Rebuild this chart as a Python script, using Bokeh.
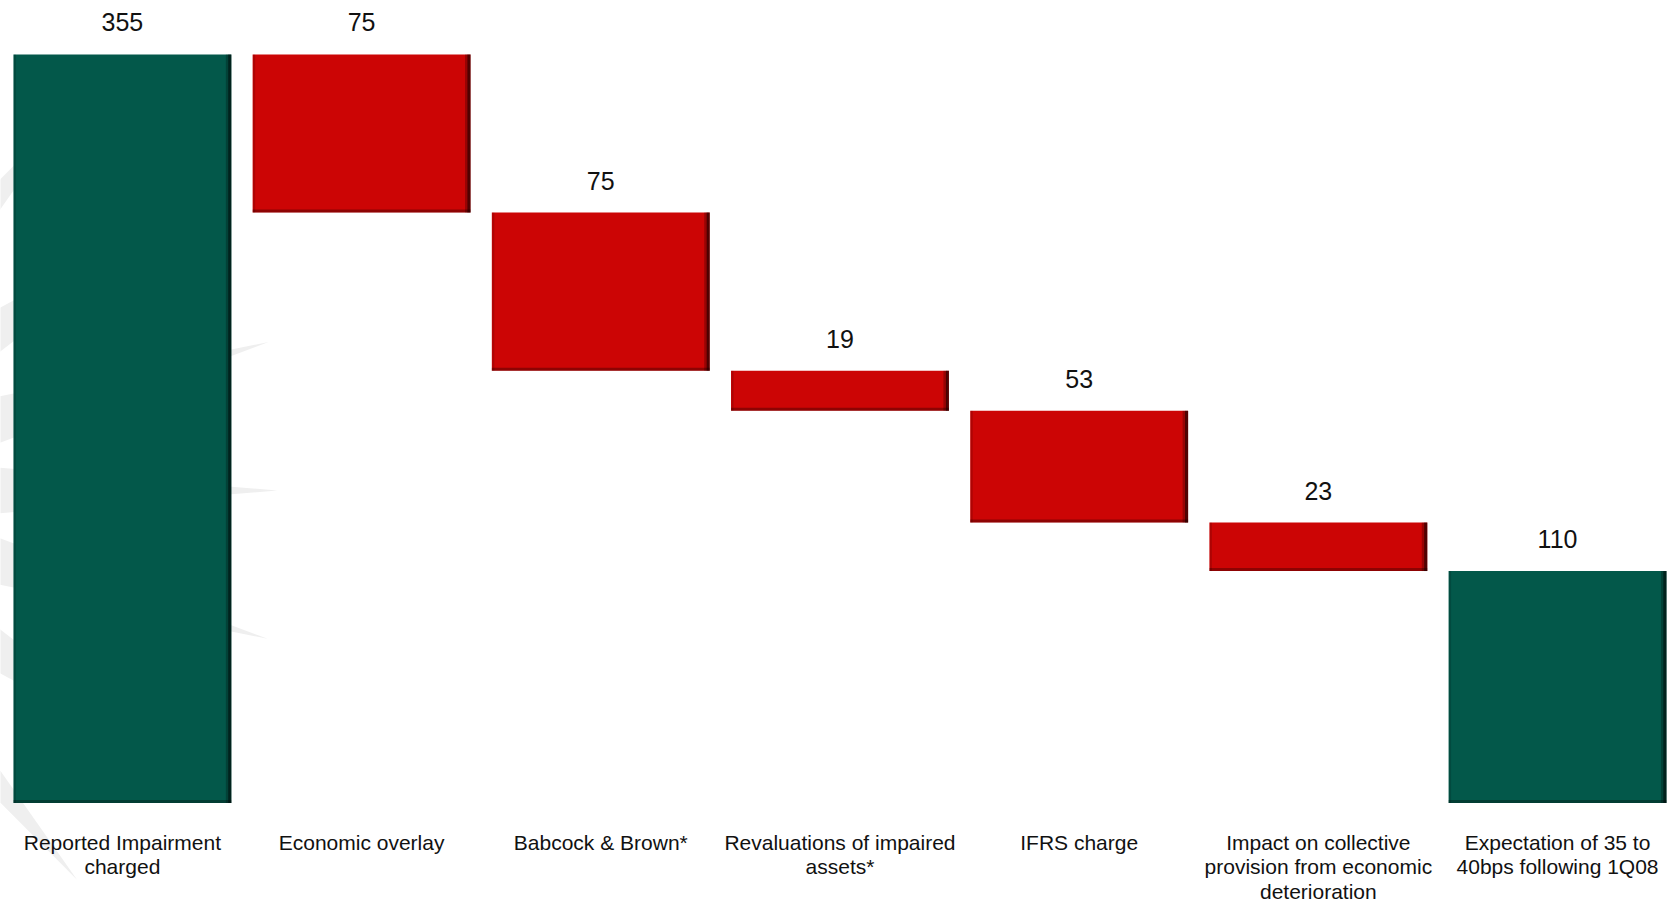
import math

from bokeh.core.properties import value
from bokeh.embed import file_html
from bokeh.models import ColumnDataSource, Range1d
from bokeh.plotting import figure
from bokeh.resources import INLINE

# --- data -------------------------------------------------------------------
categories = [
    "Reported Impairment\ncharged",
    "Economic overlay",
    "Babcock & Brown*",
    "Revaluations of impaired\nassets*",
    "IFRS charge",
    "Impact on collective\nprovision from economic\ndeterioration",
    "Expectation of 35 to\n40bps following 1Q08",
]
# first and last are totals, the rest are reductions
amounts = [355, -75, -75, -19, -53, -23, 110]
is_total = [True, False, False, False, False, False, True]

GREEN = "#03584A"
RED = "#CC0505"

# --- waterfall geometry -----------------------------------------------------
tops, bottoms, colors, labels = [], [], [], []
running = 0
for amt, tot in zip(amounts, is_total):
    if tot:
        bottoms.append(0)
        tops.append(amt)
        running = amt
        colors.append(GREEN)
    else:
        tops.append(running)
        running += amt
        bottoms.append(running)
        colors.append(RED)
    labels.append(str(abs(amt)))

xs = [i + 0.5 for i in range(len(categories))]
BAR_W = 0.911

W, H = 1674, 902
X0, X1 = -0.0096, 6.989
Y0, Y1 = -47.2, 380.6
px_x = W / (X1 - X0)   # pixels per category
px_y = H / (Y1 - Y0)   # pixels per unit

p = figure(
    width=W, height=H,
    x_range=Range1d(X0, X1), y_range=Range1d(Y0, Y1),
    output_backend="svg", toolbar_location=None,
    min_border=0, min_border_left=0, min_border_right=0,
    min_border_top=0, min_border_bottom=0,
)
p.axis.visible = False
p.grid.visible = False
p.outline_line_color = None
p.background_fill_color = "white"
p.border_fill_color = "white"

# --- faint starburst watermark behind the first column ----------------------
hub_px, hub_py = -250.0, 490.0
spoke_angles = [-50, -33, -16, 0, 16, 33, 50]
spoke_len = [500, 520, 539, 527, 538, 520, 508]
base_half = 43.0
sx, sy = [], []
for ang, ln in zip(spoke_angles, spoke_len):
    a = math.radians(ang)
    ux, uy = math.cos(a), math.sin(a)
    nx, ny = -uy, ux
    pts = [
        (hub_px + nx * base_half, hub_py + ny * base_half),
        (hub_px + ux * ln, hub_py + uy * ln),
        (hub_px - nx * base_half, hub_py - ny * base_half),
    ]
    sx.append([X0 + px / px_x for px, _ in pts])
    sy.append([Y1 - py / px_y for _, py in pts])
p.patches(sx, sy, fill_color="#EFEFEF", line_color=None)

# --- bars -------------------------------------------------------------------
src = ColumnDataSource(dict(
    x=xs, top=tops, bottom=bottoms, color=colors, label=labels,
    left=[x - BAR_W / 2 for x in xs], right=[x + BAR_W / 2 for x in xs],
    cat=categories,
))
p.vbar(x="x", top="top", bottom="bottom", width=BAR_W, source=src,
       fill_color="color", line_color=None)

# bevel shading: dark right edge, darker bottom edge, soft left edge
dx1 = 1.5 / px_x
dx2 = 4.0 / px_x
dy1 = 1.5 / px_y
right_in1 = [r - dx1 for r in src.data["right"]]
right_in2 = [r - dx2 for r in src.data["right"]]
left_in = [l + dx1 for l in src.data["left"]]
bot_in = [b + dy1 for b in bottoms]
p.segment(x0=right_in2, y0=bottoms, x1=right_in2, y1=tops,
          line_color="black", line_alpha=0.25, line_width=3)
p.segment(x0=right_in1, y0=bottoms, x1=right_in1, y1=tops,
          line_color="black", line_alpha=0.6, line_width=3)
p.segment(x0=left_in, y0=bottoms, x1=left_in, y1=tops,
          line_color="black", line_alpha=0.15, line_width=2)
p.segment(x0=src.data["left"], y0=bot_in, x1=src.data["right"], y1=bot_in,
          line_color="black", line_alpha=0.3, line_width=3)

# --- value labels above each bar --------------------------------------------
p.text(x="x", y="top", text="label", source=src,
       text_font=value("Liberation Sans"), text_font_size="25px",
       text_color="#111111", text_align="center", text_baseline="middle",
       y_offset=-32)

# --- category labels under the baseline -------------------------------------
p.text(x="x", y=0, text="cat", source=src,
       text_font=value("Liberation Sans"), text_font_size="21px",
       text_color="#111111", text_align="center", text_baseline="top",
       text_line_height=1.06, y_offset=28)

open("out.html", "w").write(file_html(p, INLINE))
